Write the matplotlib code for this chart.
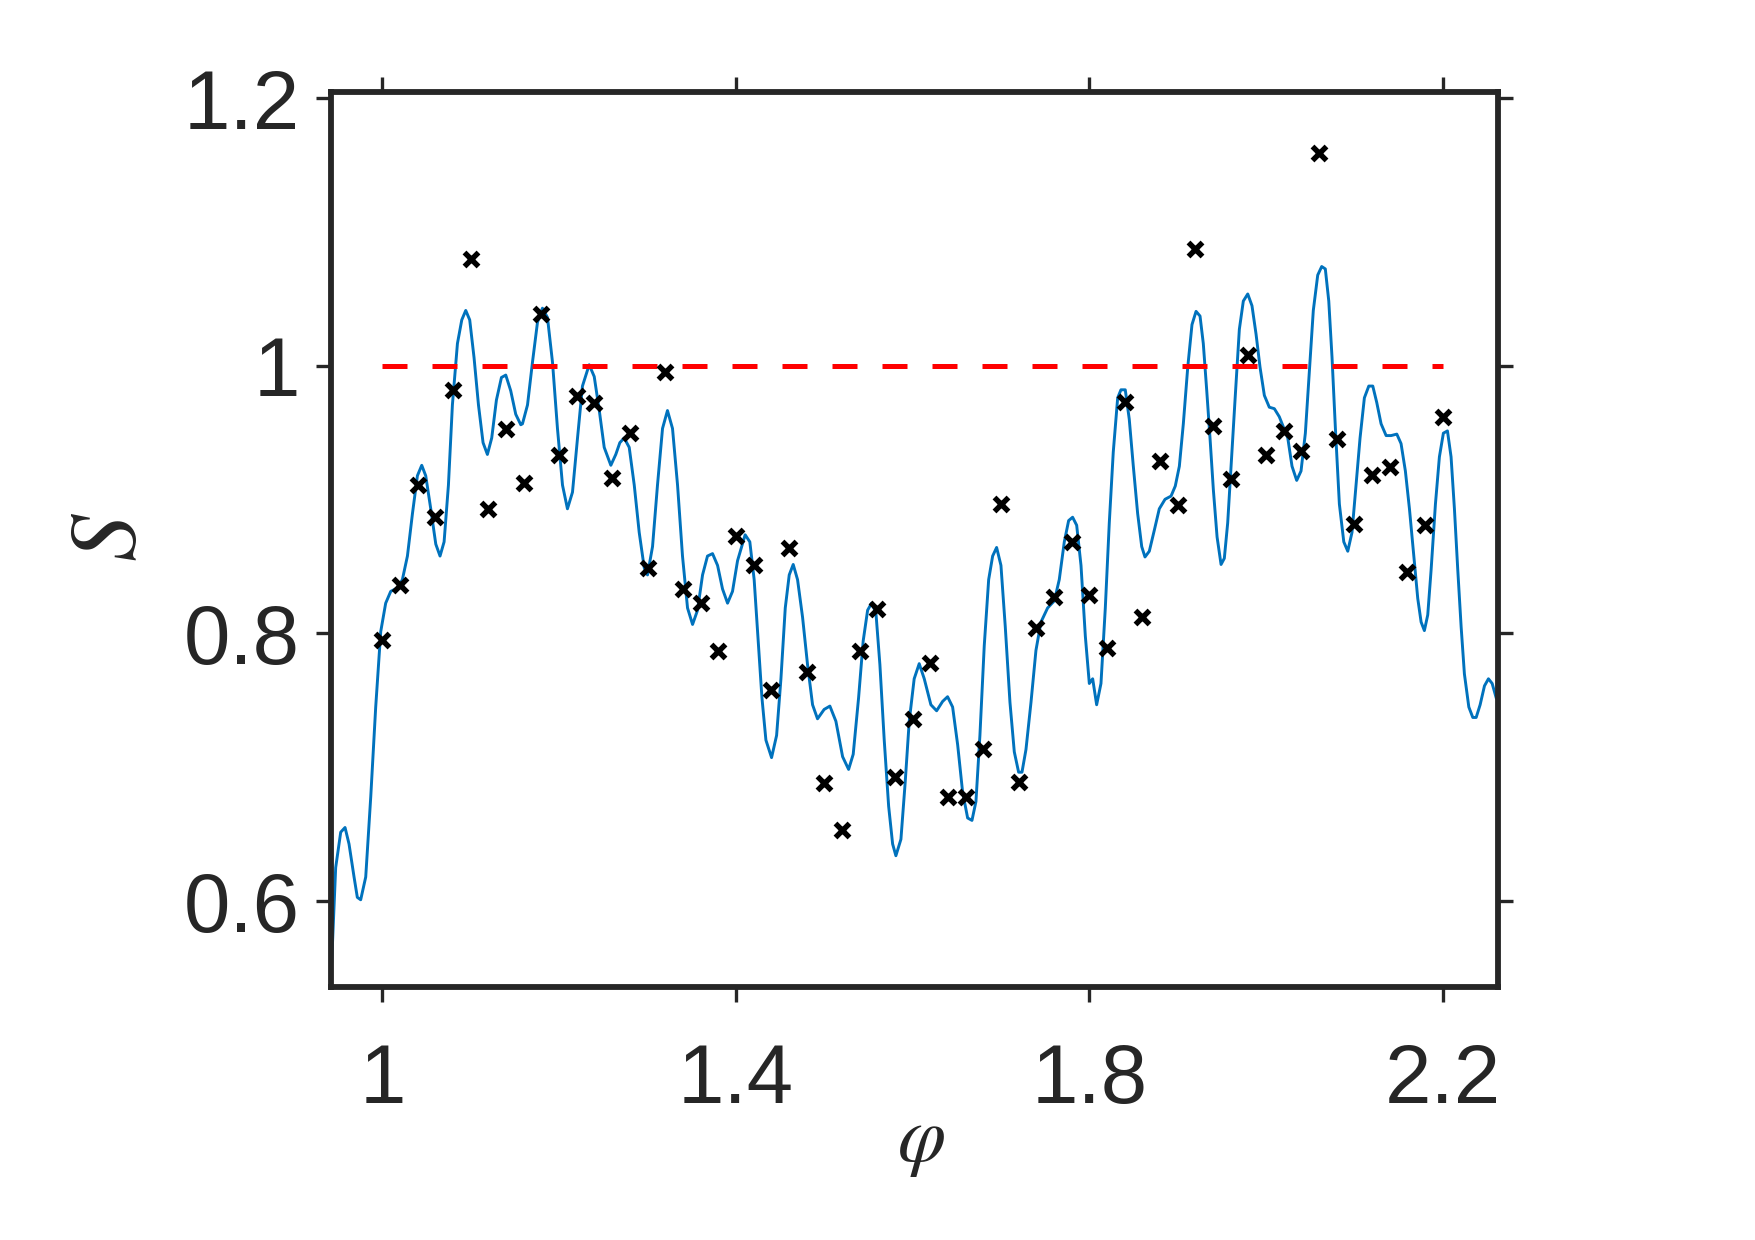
import matplotlib
matplotlib.use("Agg")
import matplotlib.pyplot as plt

plt.rcParams['font.family'] = ['Liberation Sans', 'DejaVu Sans']
plt.rcParams['mathtext.fontset'] = 'stix'

# ---- data ----
phi_markers = [1.00, 1.02, 1.04, 1.06, 1.08, 1.10, 1.12, 1.14, 1.16, 1.18,
               1.20, 1.22, 1.24, 1.26, 1.28, 1.30, 1.32, 1.34, 1.36, 1.38,
               1.40, 1.42, 1.44, 1.46, 1.48, 1.50, 1.52, 1.54, 1.56, 1.58,
               1.60, 1.62, 1.64, 1.66, 1.68, 1.70, 1.72, 1.74, 1.76, 1.78,
               1.80, 1.82, 1.84, 1.86, 1.88, 1.90, 1.92, 1.94, 1.96, 1.98,
               2.00, 2.02, 2.04, 2.06, 2.08, 2.10, 2.12, 2.14, 2.16, 2.18, 2.20]
s_markers = [0.795, 0.836, 0.911, 0.887, 0.982, 1.080, 0.893, 0.953, 0.912, 1.039,
             0.933, 0.977, 0.972, 0.916, 0.950, 0.849, 0.995, 0.833, 0.823, 0.787,
             0.873, 0.851, 0.758, 0.864, 0.771, 0.688, 0.653, 0.787, 0.818, 0.693,
             0.736, 0.778, 0.678, 0.678, 0.714, 0.897, 0.689, 0.804, 0.827, 0.868,
             0.829, 0.789, 0.973, 0.812, 0.929, 0.896, 1.087, 0.955, 0.915, 1.008,
             0.933, 0.951, 0.936, 1.159, 0.945, 0.882, 0.918, 0.924, 0.846, 0.881, 0.962]

phi_curve = [0.9426, 0.9471, 0.9528, 0.9577, 0.9622, 0.9679, 0.9716, 0.9754, 0.9811, 0.9868,
             0.9924, 0.9981, 1.0037, 1.0094, 1.0170, 1.0226, 1.0283, 1.0340, 1.0396, 1.0445,
             1.0490, 1.0547, 1.0604, 1.0652, 1.0698, 1.0747, 1.0792, 1.0849, 1.0898, 1.0943,
             1.0988, 1.1037, 1.1087, 1.1139, 1.1188, 1.1237, 1.1290, 1.1347, 1.1396, 1.1452,
             1.1509, 1.1566, 1.1585, 1.1642, 1.1698, 1.1755, 1.1811, 1.1868, 1.1925, 1.1981,
             1.2038, 1.2094, 1.2151, 1.2208, 1.2264, 1.2340, 1.2397, 1.2453, 1.2510, 1.2585,
             1.2641, 1.2687, 1.2736, 1.2793, 1.2850, 1.2906, 1.2963, 1.3000, 1.3057, 1.3113,
             1.3170, 1.3226, 1.3283, 1.3340, 1.3396, 1.3453, 1.3510, 1.3566, 1.3623, 1.3679,
             1.3736, 1.3793, 1.3849, 1.3906, 1.3962, 1.4019, 1.4105, 1.4158, 1.4207, 1.4253,
             1.4295, 1.4340, 1.4404, 1.4461, 1.4510, 1.4559, 1.4604, 1.4649, 1.4698, 1.4755,
             1.4811, 1.4868, 1.4924, 1.4999, 1.5064, 1.5132, 1.5208, 1.5276, 1.5328, 1.5389,
             1.5441, 1.5491, 1.5536, 1.5585, 1.5630, 1.5679, 1.5729, 1.5774, 1.5811, 1.5868,
             1.5916, 1.5962, 1.6018, 1.6075, 1.6132, 1.6207, 1.6272, 1.6340, 1.6396, 1.6453,
             1.6510, 1.6566, 1.6623, 1.6672, 1.6717, 1.6762, 1.6811, 1.6861, 1.6906, 1.6951,
             1.7000, 1.7049, 1.7102, 1.7151, 1.7200, 1.7238, 1.7283, 1.7340, 1.7396, 1.7453,
             1.7528, 1.7604, 1.7660, 1.7717, 1.7766, 1.7811, 1.7857, 1.7906, 1.7955, 1.8000,
             1.8038, 1.8083, 1.8132, 1.8181, 1.8226, 1.8271, 1.8321, 1.8358, 1.8407, 1.8452,
             1.8498, 1.8547, 1.8593, 1.8630, 1.8679, 1.8736, 1.8792, 1.8857, 1.8925, 1.8973,
             1.9019, 1.9064, 1.9114, 1.9162, 1.9208, 1.9253, 1.9290, 1.9329, 1.9366, 1.9404,
             1.9446, 1.9491, 1.9528, 1.9566, 1.9604, 1.9649, 1.9698, 1.9743, 1.9793, 1.9841,
             1.9887, 1.9932, 1.9981, 2.0037, 2.0094, 2.0150, 2.0246, 2.0294, 2.0347, 2.0396,
             2.0445, 2.0490, 2.0535, 2.0585, 2.0630, 2.0671, 2.0710, 2.0747, 2.0785, 2.0830,
             2.0880, 2.0925, 2.0973, 2.1019, 2.1064, 2.1113, 2.1163, 2.1208, 2.1253, 2.1302,
             2.1359, 2.1415, 2.1480, 2.1528, 2.1577, 2.1623, 2.1668, 2.1717, 2.1755, 2.1792,
             2.1830, 2.1868, 2.1917, 2.1962, 2.2007, 2.2053, 2.2094, 2.2132, 2.2170, 2.2208,
             2.2245, 2.2295, 2.2340, 2.2378, 2.2423, 2.2472, 2.2517, 2.2559, 2.2604]
s_curve = [0.5545, 0.6250, 0.6515, 0.6550, 0.6427, 0.6180, 0.6028, 0.6010, 0.6180, 0.6780,
           0.7450, 0.8014, 0.8226, 0.8314, 0.8340, 0.8402, 0.8578, 0.8896, 0.9178, 0.9256,
           0.9178, 0.8931, 0.8667, 0.8578, 0.8684, 0.9108, 0.9707, 1.0166, 1.0342, 1.0413,
           1.0342, 1.0060, 0.9707, 0.9425, 0.9337, 0.9460, 0.9743, 0.9912, 0.9930, 0.9813,
           0.9637, 0.9559, 0.9566, 0.9707, 1.0025, 1.0325, 1.0430, 1.0360, 1.0025, 0.9531,
           0.9108, 0.8931, 0.9055, 0.9460, 0.9848, 1.0007, 0.9919, 0.9672, 0.9390, 0.9256,
           0.9337, 0.9425, 0.9460, 0.9390, 0.9108, 0.8755, 0.8490, 0.8437, 0.8649, 0.9108,
           0.9531, 0.9665, 0.9531, 0.9108, 0.8578, 0.8190, 0.8067, 0.8173, 0.8437, 0.8578,
           0.8596, 0.8508, 0.8332, 0.8226, 0.8314, 0.8543, 0.8737, 0.8684, 0.8402, 0.7944,
           0.7520, 0.7203, 0.7072, 0.7238, 0.7661, 0.8190, 0.8437, 0.8515, 0.8402, 0.8120,
           0.7767, 0.7467, 0.7362, 0.7432, 0.7457, 0.7344, 0.7079, 0.6984, 0.7097, 0.7520,
           0.7944, 0.8173, 0.8226, 0.8155, 0.7767, 0.7203, 0.6709, 0.6427, 0.6339, 0.6462,
           0.6885, 0.7344, 0.7661, 0.7774, 0.7661, 0.7467, 0.7422, 0.7492, 0.7527, 0.7450,
           0.7168, 0.6815, 0.6621, 0.6603, 0.6744, 0.7238, 0.7908, 0.8402, 0.8578, 0.8642,
           0.8508, 0.8049, 0.7485, 0.7115, 0.6963, 0.6963, 0.7132, 0.7485, 0.7873, 0.8085,
           0.8190, 0.8243, 0.8402, 0.8684, 0.8843, 0.8868, 0.8808, 0.8508, 0.7979, 0.7626,
           0.7661, 0.7467, 0.7626, 0.8190, 0.8825, 0.9354, 0.9760, 0.9820, 0.9820, 0.9601,
           0.9249, 0.8896, 0.8649, 0.8571, 0.8614, 0.8772, 0.8931, 0.9002, 0.9026, 0.9101,
           0.9249, 0.9566, 0.9989, 1.0307, 1.0406, 1.0371, 1.0166, 0.9813, 0.9460, 0.9072,
           0.8720, 0.8515, 0.8561, 0.8825, 0.9249, 0.9743, 1.0272, 1.0483, 1.0536, 1.0448,
           1.0236, 0.9989, 0.9778, 0.9690, 0.9679, 0.9619, 0.9460, 0.9249, 0.9143, 0.9213,
           0.9496, 0.9954, 1.0413, 1.0677, 1.0741, 1.0723, 1.0483, 1.0060, 0.9531, 0.8966,
           0.8684, 0.8614, 0.8755, 0.9108, 0.9460, 0.9760, 0.9848, 0.9848, 0.9725, 0.9566,
           0.9478, 0.9478, 0.9489, 0.9418, 0.9213, 0.8931, 0.8614, 0.8261, 0.8085, 0.8021,
           0.8138, 0.8473, 0.8966, 0.9319, 0.9496, 0.9513, 0.9319, 0.8931, 0.8473, 0.8049,
           0.7697, 0.7450, 0.7372, 0.7372, 0.7467, 0.7608, 0.7661, 0.7626, 0.7520]

ref_phi = [1.0, 2.2]
ref_s = [1.0, 1.0]

xticks = [1.0, 1.4, 1.8, 2.2]
xticklabels = ['1', '1.4', '1.8', '2.2']
yticks = [0.6, 0.8, 1.0, 1.2]
yticklabels = ['0.6', '0.8', '1', '1.2']

# ---- figure ----
fig = plt.figure(figsize=(17.55, 12.40), dpi=100)
ax = fig.add_axes([0.1887, 0.2040, 0.6646, 0.7216])

ax.plot(phi_curve, s_curve, color='#0072BD', lw=2.1, zorder=2)
ax.plot(ref_phi, ref_s, color='#FF0000', lw=3.6, dashes=(5.0, 5.0), zorder=3)
ax.plot(phi_markers, s_markers, linestyle='none', marker='x', color='black',
        markersize=10.5, markeredgewidth=3.9, zorder=4)

ax.set_xlim(0.942, 2.262)
ax.set_ylim(0.5358, 1.2043)
ax.set_xticks(xticks)
ax.set_xticklabels(xticklabels)
ax.set_yticks(yticks)
ax.set_yticklabels(yticklabels)

for sp in ax.spines.values():
    sp.set_linewidth(4.2)
    sp.set_color('#262626')

ax.tick_params(axis='both', which='major', direction='out', length=10.5, width=2.4,
               color='#262626', labelcolor='#262626', labelsize=60,
               top=True, right=True)
ax.tick_params(axis='x', pad=29)
ax.tick_params(axis='y', pad=12)

ax.set_xlabel(r'$\varphi$', fontsize=56, color='#262626', va='center')
ax.xaxis.set_label_coords(0.506, -0.174)
ax.set_ylabel(r'$S$', fontsize=68, color='#262626', va='center')
ax.yaxis.set_label_coords(-0.188, 0.503)

fig.savefig('out.png', dpi=100)
